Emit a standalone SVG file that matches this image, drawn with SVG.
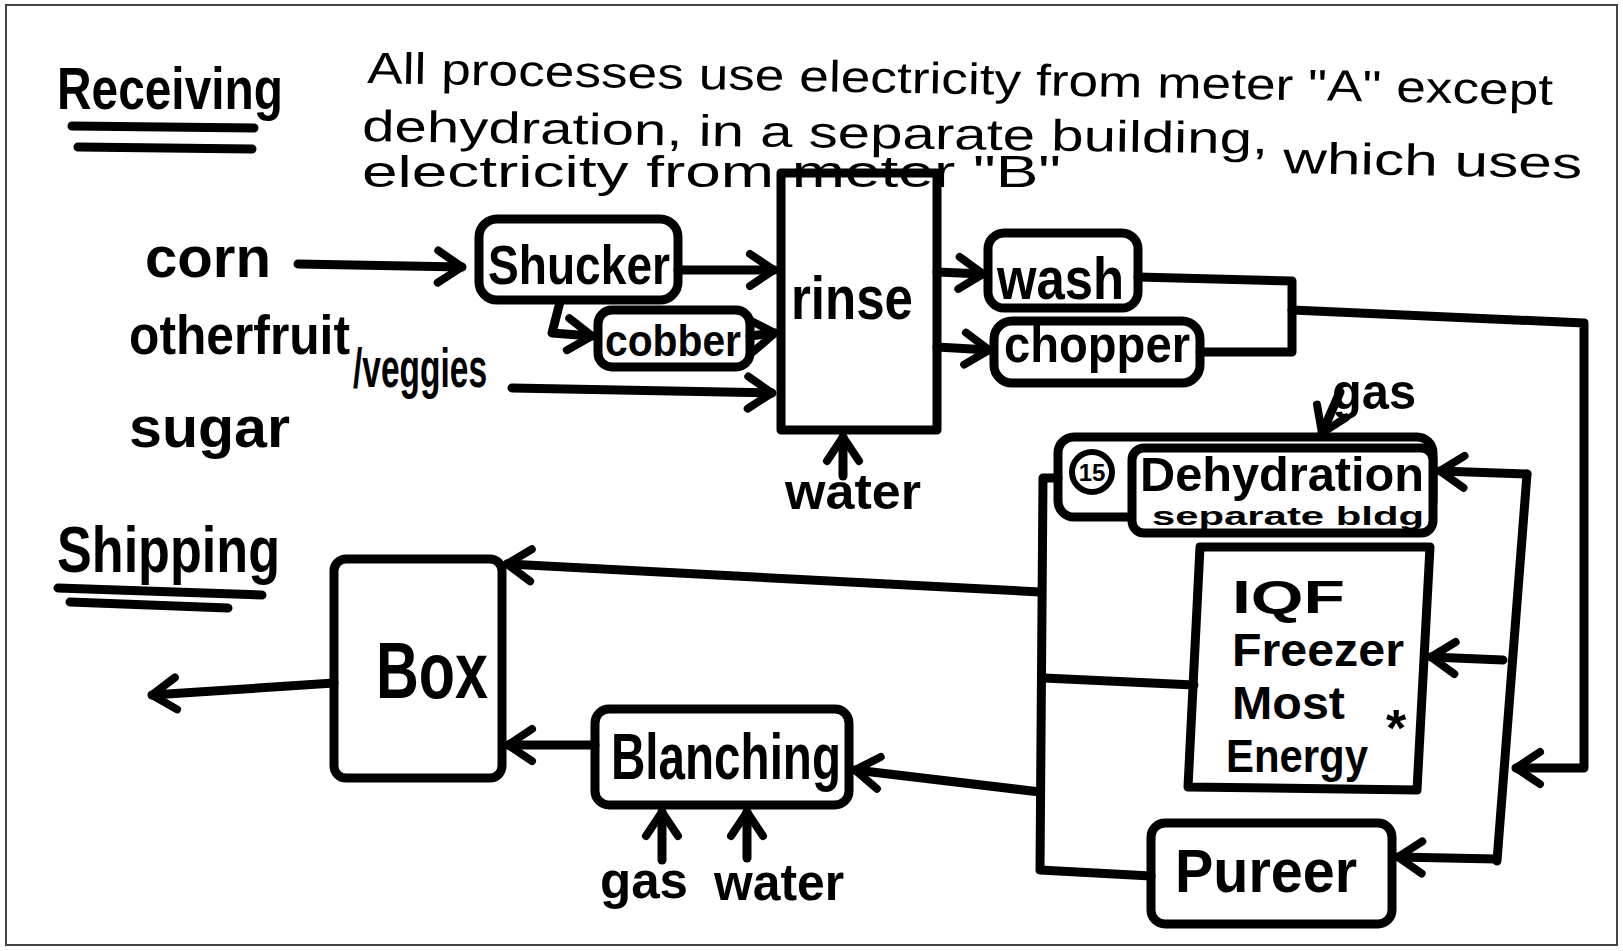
<svg xmlns="http://www.w3.org/2000/svg" width="1623" height="951" viewBox="0 0 1623 951">
<defs>
<style>
.ln{fill:none;stroke:#000;stroke-width:9;stroke-linecap:round;stroke-linejoin:round}
.ar{fill:none;stroke:#000;stroke-width:9;stroke-linecap:round;stroke-linejoin:round;marker-end:url(#ah)}
.bx{fill:#fff;stroke:#000;stroke-width:9;stroke-linejoin:round}
.lb{font-family:"Liberation Sans",Arial,sans-serif;font-weight:700;fill:#000}
.nt{font-family:"Liberation Sans",Arial,sans-serif;font-weight:400;fill:#000;font-size:44px}
</style>
<marker id="ah" markerUnits="userSpaceOnUse" viewBox="-34 -24 40 48" markerWidth="40" markerHeight="48" refX="0" refY="0" orient="auto">
<path d="M-24,-16 L0,0 L-24,16" fill="none" stroke="#000" stroke-width="8" stroke-linecap="round" stroke-linejoin="round"/>
</marker>
</defs>
<rect x="0" y="0" width="1623" height="951" fill="#fff"/>
<rect x="6" y="5" width="1611" height="940" fill="none" stroke="#444" stroke-width="2"/>

<g id="note">
<text class="nt" x="367" y="83" textLength="1186" lengthAdjust="spacingAndGlyphs" transform="rotate(1.05 367 83)">All processes use electricity from meter "A" except</text>
<text class="nt" x="362" y="141" textLength="906" lengthAdjust="spacingAndGlyphs" transform="rotate(0.8 362 141)">dehydration, in a separate building,</text>
<text class="nt" x="1283" y="173" textLength="299" lengthAdjust="spacingAndGlyphs" transform="rotate(1 1283 173)">which uses</text>
<text class="nt" x="362" y="187" textLength="699" lengthAdjust="spacingAndGlyphs">electricity from meter "B"</text>
</g>

<g id="receiving">
<text class="lb" x="57" y="109" font-size="60" textLength="226" lengthAdjust="spacingAndGlyphs">Receiving</text>
<path class="ln" d="M72,126 L254,128 M78,147 L252,149"/>
</g>
<g id="shipping">
<text class="lb" x="57" y="572" font-size="64" textLength="223" lengthAdjust="spacingAndGlyphs">Shipping</text>
<path class="ln" d="M58,588 L262,595 M70,602 L228,608"/>
</g>

<g id="corn"><text class="lb" x="145" y="277" font-size="58" textLength="126" lengthAdjust="spacingAndGlyphs">corn</text></g>
<g id="veggies"><text class="lb" font-size="56"><tspan x="129" y="354" textLength="221" lengthAdjust="spacingAndGlyphs">otherfruit</tspan><tspan x="353" y="387" textLength="134" lengthAdjust="spacingAndGlyphs">/veggies</tspan></text></g>
<g id="sugar"><text class="lb" x="129" y="447" font-size="58" textLength="161" lengthAdjust="spacingAndGlyphs">sugar</text></g>

<g id="shucker">
<rect class="bx" x="479" y="219" width="199" height="81" rx="18"/>
<text class="lb" x="488" y="284" font-size="56" textLength="182" lengthAdjust="spacingAndGlyphs">Shucker</text>
</g>
<g id="cobber">
<rect class="bx" x="598" y="310" width="152" height="57" rx="14"/>
<text class="lb" x="605" y="356" font-size="44" textLength="136" lengthAdjust="spacingAndGlyphs">cobber</text>
</g>
<g id="rinse">
<rect x="781" y="173" width="156" height="257" fill="none" stroke="#000" stroke-width="9" stroke-linejoin="round"/>
<text class="lb" x="791" y="319" font-size="62" textLength="122" lengthAdjust="spacingAndGlyphs">rinse</text>
</g>
<g id="water1"><text class="lb" x="785" y="509" font-size="50" textLength="136" lengthAdjust="spacingAndGlyphs">water</text></g>
<g id="wash">
<rect class="bx" x="988" y="233" width="150" height="75" rx="16"/>
<text class="lb" x="997" y="299" font-size="60" textLength="127" lengthAdjust="spacingAndGlyphs">wash</text>
</g>
<g id="chopper">
<rect class="bx" x="994" y="321" width="206" height="62" rx="18"/>
<text class="lb" x="1004" y="362" font-size="52" textLength="186" lengthAdjust="spacingAndGlyphs">chopper</text>
</g>

<g id="gas1"><text class="lb" x="1332" y="409" font-size="50" textLength="84" lengthAdjust="spacingAndGlyphs">gas</text></g>
<g id="dehydration">
<rect class="bx" x="1058" y="437" width="375" height="80" rx="16"/>
<rect class="bx" x="1132" y="448" width="301" height="85" rx="12"/>
<circle cx="1092" cy="472" r="20" fill="#fff" stroke="#000" stroke-width="6"/>
<text class="lb" x="1092" y="481" font-size="24" text-anchor="middle">15</text>
<text class="lb" x="1140" y="491" font-size="48" textLength="284" lengthAdjust="spacingAndGlyphs">Dehydration</text>
<text class="lb" x="1152" y="525" font-size="26" textLength="272" lengthAdjust="spacingAndGlyphs">separate bldg</text>
</g>
<g id="iqf">
<path class="bx" d="M1200,547 L1430,547 L1417,790 L1188,787 Z"/>
<text class="lb" font-size="47"><tspan x="1232" y="613" textLength="113" lengthAdjust="spacingAndGlyphs">IQF</tspan><tspan x="1232" y="666" textLength="172" lengthAdjust="spacingAndGlyphs">Freezer</tspan><tspan x="1232" y="719" textLength="113" lengthAdjust="spacingAndGlyphs">Most</tspan><tspan x="1226" y="772" textLength="142" lengthAdjust="spacingAndGlyphs">Energy</tspan></text>
<text class="lb" x="1396" y="746" font-size="52" text-anchor="middle">*</text>
</g>
<g id="pureer">
<rect class="bx" x="1151" y="823" width="241" height="101" rx="14"/>
<text class="lb" x="1175" y="892" font-size="62" textLength="182" lengthAdjust="spacingAndGlyphs">Pureer</text>
</g>
<g id="box">
<rect class="bx" x="334" y="559" width="168" height="219" rx="12"/>
<text class="lb" x="376" y="698" font-size="80" textLength="112" lengthAdjust="spacingAndGlyphs">Box</text>
</g>
<g id="blanching">
<rect class="bx" x="595" y="709" width="254" height="96" rx="14"/>
<text class="lb" x="611" y="779" font-size="64" textLength="230" lengthAdjust="spacingAndGlyphs">Blanching</text>
</g>
<g id="gas2"><text class="lb" x="600" y="898" font-size="52" textLength="88" lengthAdjust="spacingAndGlyphs">gas</text></g>
<g id="water2"><text class="lb" x="714" y="900" font-size="52" textLength="130" lengthAdjust="spacingAndGlyphs">water</text></g>

<g id="connectors">
<path class="ar" d="M298,264 L462,267"/>
<path class="ar" d="M678,270 L774,270"/>
<path class="ar" d="M560,302 L552,333 L592,336"/>
<path class="ar" d="M750,336 L775,333"/>
<path class="ar" d="M512,388 L772,393"/>
<path class="ar" d="M937,272 L983,274"/>
<path class="ar" d="M937,347 L989,350"/>
<path class="ln" d="M1138,277 L1292,281 L1292,352 L1200,352"/>
<path class="ar" d="M1292,310 L1584,323 L1584,768 L1516,768"/>
<path class="ln" d="M1527,474 L1497,861"/>
<path class="ar" d="M1527,474 L1440,471"/>
<path class="ar" d="M1503,660 L1431,657"/>
<path class="ar" d="M1496,859 L1398,857"/>
<path class="ln" d="M1058,478 L1043,478 L1040,870 L1151,876"/>
<path class="ar" d="M1040,592 L507,564"/>
<path class="ln" d="M1194,685 L1044,678"/>
<path class="ar" d="M1040,792 L855,770"/>
<path class="ar" d="M595,745 L508,745"/>
<path class="ar" d="M334,683 L152,695"/>
<path class="ar" d="M662,860 L662,812"/>
<path class="ar" d="M747,858 L747,812"/>
<path class="ar" d="M843,476 L843,437"/>
<path class="ar" d="M1340,392 L1322,433"/>
</g>
</svg>
